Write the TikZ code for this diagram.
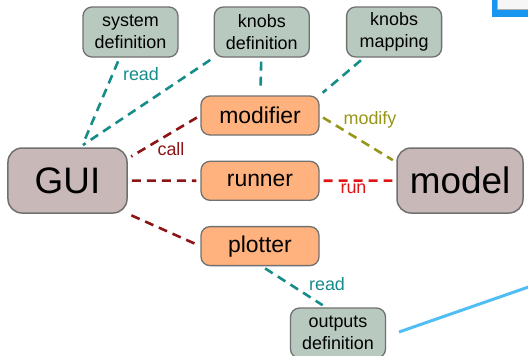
\documentclass[tikz,border=0pt]{standalone}
\usepackage{fontspec}
\setmainfont{Liberation Sans}
\usetikzlibrary{positioning}
\definecolor{defgreen}{RGB}{184,201,191}
\definecolor{mainrose}{RGB}{201,184,184}
\definecolor{blkorange}{RGB}{255,178,125}
\definecolor{edgegray}{RGB}{112,112,112}
\definecolor{readteal}{RGB}{22,140,138}
\definecolor{calldark}{RGB}{140,20,20}
\definecolor{runred}{RGB}{225,20,20}
\definecolor{modolive}{RGB}{150,150,25}
\definecolor{skyline}{RGB}{80,190,245}
\definecolor{winblue}{RGB}{25,150,240}

\begin{document}
\begin{tikzpicture}[
    x=1bp, y=-1bp,
    font=\fontsize{18}{22}\selectfont,
    defn/.style={draw=edgegray, line width=1.3bp, rounded corners=9bp, fill=defgreen,
                 align=center, inner sep=0pt, minimum width=95bp, minimum height=50bp},
    blk/.style={draw=edgegray, line width=1.3bp, rounded corners=9bp, fill=blkorange,
                inner sep=0pt, minimum width=118bp, minimum height=39bp,
                font=\fontsize{23}{26}\selectfont},
    big/.style={draw=edgegray, line width=1.5bp, rounded corners=14bp, fill=mainrose,
                inner sep=0pt, minimum height=65bp, font=\fontsize{37}{40}\selectfont},
    lnk/.style={line width=2.6bp, dash pattern=on 9bp off 6bp,
                shorten >=4bp, shorten <=4bp},
    lbl/.style={font=\fontsize{18}{20}\selectfont}
  ]
  \clip (0,0) rectangle (528,355);
  % screen bits at the border
  \fill[winblue] (492,0) rectangle (528,17);
  \filldraw[fill=white!93!gray, draw=gray!60] (497,-2) rectangle (530,9);
  \coordinate (skyA) at (399,332);
  \coordinate (skyB) at (540,283);
  \draw[skyline, line width=3bp] (skyA) -- (skyB);

  \node[blk] (mod) at (260,115.5) {modifier};
  \node[blk, below=25bp of mod] (run) {runner};
  \node[blk, below=25bp of run] (plot) {plotter};
  \node[big, minimum width=119bp] (gui) at (67.5,180.5) {GUI};
  \node[big, minimum width=126bp] (model) at (460,180.5) {model};
  \node[defn] (sysdef) at (130.5,32) {system\\definition};
  \node[defn, right=35bp of sysdef] (kdef) {knobs\\definition};
  \node[defn, right=36bp of kdef] (kmap) {knobs\\mapping};
  \node[defn] (outdef) at (338,333) {outputs\\definition};

  \draw[lnk, readteal] (sysdef) -- (gui);
  \draw[lnk, readteal] (kdef.south west) -- (gui.70);
  \draw[lnk, readteal] (kdef) -- (mod);
  \draw[lnk, readteal] (kmap) -- (mod.north east);
  \draw[lnk, calldark] (mod.west) -- (gui.20);
  \draw[lnk, calldark] (gui) -- (run);
  \draw[lnk, calldark] (gui.south east) -- (plot.west);
  \draw[lnk, runred] (run) -- (model);
  \draw[lnk, modolive] (mod.east) -- (model.164);
  \draw[lnk, readteal] (plot.-85) -- (outdef.115);

  \node[lbl, text=readteal] (rd1) at (141,74) {read};
  \node[lbl, text=calldark] (cl) at (171,149) {call};
  \node[lbl, text=runred] (rn) at (353.5,189) {run};
  \node[lbl, text=modolive] (md) at (370,120) {modify};
  \node[lbl, text=readteal] (rd2) at (327,284) {read};
\end{tikzpicture}
\end{document}
